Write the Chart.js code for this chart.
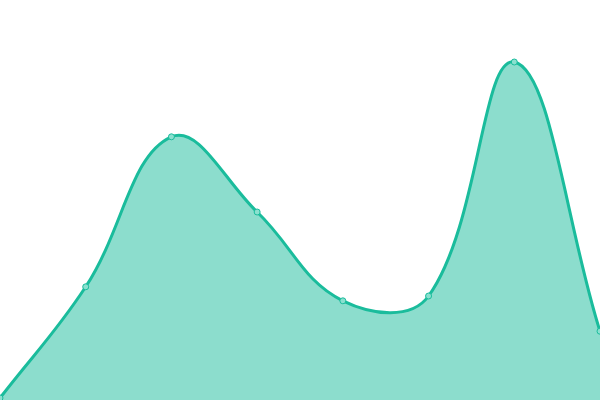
<!DOCTYPE html>
<html>
<head>
<meta charset="utf-8">
<script src="https://cdn.jsdelivr.net/npm/chart.js@4"></script>
<style>
  html, body { margin: 0; padding: 0; background: #fff; }
  .wrap { width: 600px; height: 400px; }
</style>
</head>
<body>
<div class="wrap"><canvas id="chart"></canvas></div>
<script>
  const labels = ['1', '2', '3', '4', '5', '6', '7', '8'];
  const values = [0.5, 28.3, 65.8, 47, 24.8, 26, 84.5, 17.2];

  const ctx = document.getElementById('chart');

  const myChart = new Chart(ctx, {
    type: 'line',
    data: {
      labels: labels,
      datasets: [
        {
          data: values,
          fill: true,
          tension: 0.4,
          borderColor: '#1abc9c',
          borderWidth: 3,
          backgroundColor: 'rgba(26, 188, 156, 0.5)',
          pointRadius: 3,
          pointBorderWidth: 1,
          pointBorderColor: '#1abc9c',
          pointBackgroundColor: '#8ae0cf'
        }
      ]
    },
    options: {
      responsive: true,
      maintainAspectRatio: false,
      animation: false,
      layout: { padding: 0, autoPadding: false },
      plugins: {
        legend: { display: false },
        tooltip: { enabled: false }
      },
      scales: {
        x: { display: false },
        y: { display: false, min: 0, max: 100 }
      }
    }
  });
</script>
</body>
</html>
